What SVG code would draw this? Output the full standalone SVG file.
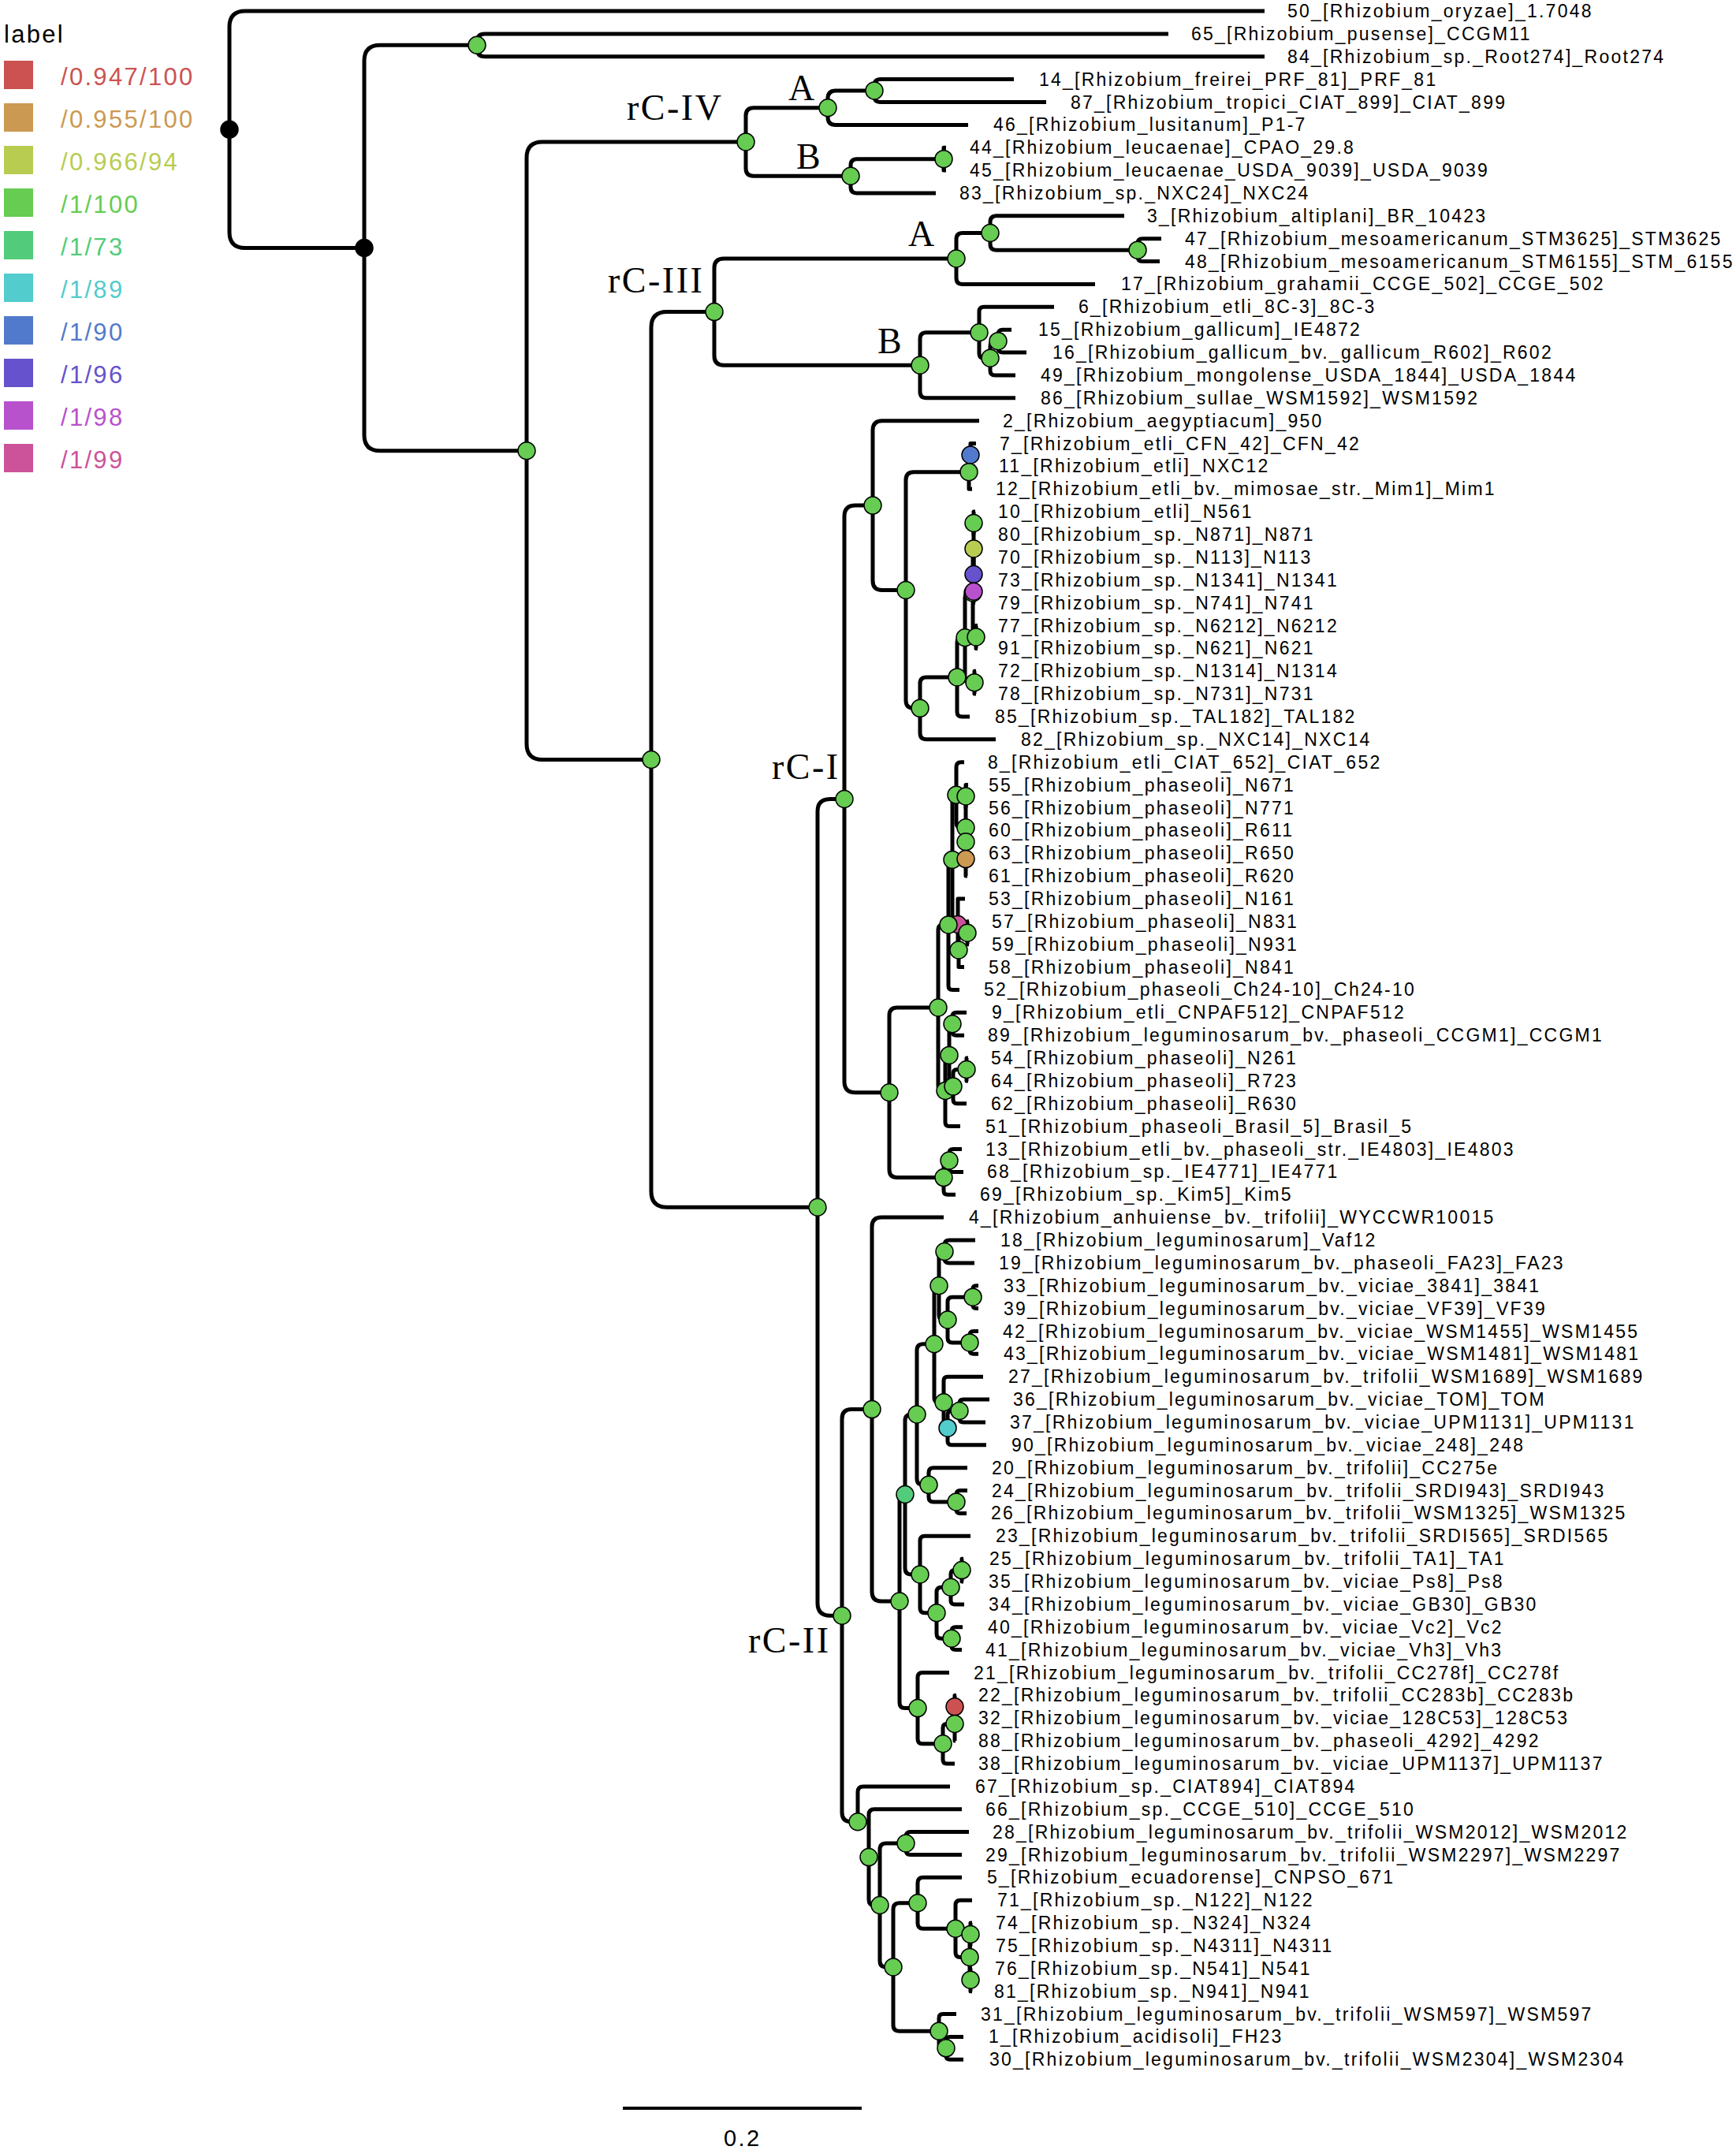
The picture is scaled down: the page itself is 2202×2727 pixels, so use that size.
<svg xmlns="http://www.w3.org/2000/svg" width="2202" height="2727" viewBox="0 0 2202 2727">
<style>
.br{fill:none;stroke:#000;stroke-width:5;stroke-linejoin:round;stroke-linecap:butt}
.lb{font-family:"Liberation Sans",Arial,sans-serif;font-size:23px;letter-spacing:2.25px;fill:#000}
.lg{font-family:"Liberation Sans",Arial,sans-serif;font-size:31px;letter-spacing:2.3px}
.cl{font-family:"Liberation Serif","Times New Roman",serif;font-size:46px;letter-spacing:2.5px;fill:#000}
.nd{stroke:#000;stroke-width:1.5}
.g{fill:#66CC52}
</style>
<rect width="2202" height="2727" fill="#fff"/>
<g id="legend">
<text class="lg" x="5" y="54" fill="#000">label</text>
<rect x="5" y="77" width="37" height="36" fill="#CC5252"/><text class="lg" x="77" y="107.5" fill="#CC5252">/0.947/100</text>
<rect x="5" y="131" width="37" height="36" fill="#CC9952"/><text class="lg" x="77" y="161.5" fill="#CC9952">/0.955/100</text>
<rect x="5" y="185" width="37" height="36" fill="#B8CC52"/><text class="lg" x="77" y="215.5" fill="#B8CC52">/0.966/94</text>
<rect x="5" y="239" width="37" height="36" fill="#66CC52"/><text class="lg" x="77" y="269.5" fill="#66CC52">/1/100</text>
<rect x="5" y="293" width="37" height="36" fill="#52CC7A"/><text class="lg" x="77" y="323.5" fill="#52CC7A">/1/73</text>
<rect x="5" y="347" width="37" height="36" fill="#52CCCC"/><text class="lg" x="77" y="377.5" fill="#52CCCC">/1/89</text>
<rect x="5" y="401" width="37" height="36" fill="#527ACC"/><text class="lg" x="77" y="431.5" fill="#527ACC">/1/90</text>
<rect x="5" y="455" width="37" height="36" fill="#6652CC"/><text class="lg" x="77" y="485.5" fill="#6652CC">/1/96</text>
<rect x="5" y="509" width="37" height="36" fill="#B852CC"/><text class="lg" x="77" y="539.5" fill="#B852CC">/1/98</text>
<rect x="5" y="563" width="37" height="36" fill="#CC5299"/><text class="lg" x="77" y="593.5" fill="#CC5299">/1/99</text>
</g>
<g id="connectors" class="br">
<path d="M1604,14 H311 Q291,14 291,34 V294.5 Q291,314.5 311,314.5 H462"/>
<path d="M605,57.3 H482 Q462,57.3 462,77.3 V551.7 Q462,571.7 482,571.7 H668"/>
<path d="M1482,42.9 H615 Q605,42.9 605,52.9 V61.7 Q605,71.7 615,71.7 H1604"/>
<path d="M946,180 H688 Q668,180 668,200 V943.5 Q668,963.5 688,963.5 H826"/>
<path d="M1050,136.7 H956 Q946,136.7 946,146.7 V213.3 Q946,223.3 956,223.3 H1079"/>
<path d="M1109,115.05 H1060 Q1050,115.05 1050,125.05 V148.4 Q1050,158.4 1060,158.4 H1228"/>
<path d="M1286,100.6 H1117 Q1109,100.6 1109,108.6 V121.5 Q1109,129.5 1117,129.5 H1327"/>
<path d="M1197,201.65 H1087 Q1079,201.65 1079,209.65 V237 Q1079,245 1087,245 H1187"/>
<path d="M1200,187.2 H1197 V216.1 H1200"/>
<path d="M906,395.6 H846 Q826,395.6 826,415.6 V1511.3 Q826,1531.3 846,1531.3 H1037"/>
<path d="M1213,327.95 H918 Q906,327.95 906,339.95 V451.3 Q906,463.3 918,463.3 H1167"/>
<path d="M1256,295.5 H1221 Q1213,295.5 1213,303.5 V352.4 Q1213,360.4 1221,360.4 H1389"/>
<path d="M1426,273.8 H1264 Q1256,273.8 1256,281.8 V309.15 Q1256,317.15 1264,317.15 H1443"/>
<path d="M1473,302.7 H1449 Q1443,302.7 1443,308.7 V325.6 Q1443,331.6 1449,331.6 H1471"/>
<path d="M1242,421.8 H1175 Q1167,421.8 1167,429.8 V496.8 Q1167,504.8 1175,504.8 H1288"/>
<path d="M1337,389.3 H1248 Q1242,389.3 1242,395.3 V448.3 Q1242,454.3 1248,454.3 H1256"/>
<path d="M1266,432.65 H1262 Q1256,432.65 1256,438.65 V469.9 Q1256,475.9 1262,475.9 H1288"/>
<path d="M1283,418.2 H1272 Q1266,418.2 1266,424.2 V441.1 Q1266,447.1 1272,447.1 H1302"/>
<path d="M1071,1013.45 H1053 Q1037,1013.45 1037,1029.45 V2033.2 Q1037,2049.2 1053,2049.2 H1068"/>
<path d="M1107,641.1 H1085 Q1071,641.1 1071,655.1 V1371.8 Q1071,1385.8 1085,1385.8 H1128"/>
<path d="M1242,533.7 H1119 Q1107,533.7 1107,545.7 V736.5 Q1107,748.5 1119,748.5 H1149"/>
<path d="M1229,598.65 H1159 Q1149,598.65 1149,608.65 V888.35 Q1149,898.35 1159,898.35 H1167"/>
<path d="M1214,858.9 H1175 Q1167,858.9 1167,866.9 V929.8 Q1167,937.8 1175,937.8 H1263"/>
<path d="M1224,808.8 H1220 Q1214,808.8 1214,814.8 V903 Q1214,909 1220,909 H1230"/>
<path d="M1234,752 H1230 Q1224,752 1224,758 V859.65 Q1224,865.65 1230,865.65 H1236"/>
<path d="M1235,696.05 H1234 V807.95 H1238"/>
<path d="M1235,663.55 V728.55"/>
<path d="M1237,649.1 H1235 V678 H1237"/>
<path d="M1237,706.9 H1235 V750.2"/>
<path d="M1237,735.8 H1235 V764.6 H1237"/>
<path d="M1240,793.5 H1238 V822.4 H1240"/>
<path d="M1238,851.2 H1236 V880.1 H1238"/>
<path d="M1231,577 H1229 V620.3 H1233"/>
<path d="M1238,562.5 H1231 V591.4 H1237"/>
<path d="M1190,1278 H1138 Q1128,1278 1128,1288 V1483.6 Q1128,1493.6 1138,1493.6 H1197"/>
<path d="M1203,1172.9 H1196 Q1190,1172.9 1190,1178.9 V1377.5 Q1190,1383.5 1196,1383.5 H1199"/>
<path d="M1208,1090.4 Q1203,1090.4 1203,1095.4 V1250.4 Q1203,1255.4 1208,1255.4 H1217"/>
<path d="M1213,1008.2 Q1208,1008.2 1208,1013.2 V1167.5 Q1208,1172.5 1213,1172.5 H1215"/>
<path d="M1223,966.7 H1219 Q1213,966.7 1213,972.7 V1043.8 Q1213,1049.8 1219,1049.8 H1225"/>
<path d="M1225,1010 V1089.6"/>
<path d="M1228,995.6 H1225 V1024.5 H1227"/>
<path d="M1225,1067.75 V1111.1 H1227"/>
<path d="M1227,1053.3 H1225 V1082.2 H1227"/>
<path d="M1224,1139.9 H1215 V1205.05 H1216"/>
<path d="M1227,1183.25 H1216 V1226.5 H1223"/>
<path d="M1229,1168.8 H1227 V1197.7 H1229"/>
<path d="M1204,1338.4 Q1199,1338.4 1199,1343.4 V1423.6 Q1199,1428.6 1204,1428.6 H1218"/>
<path d="M1208,1298.75 Q1204,1298.75 1204,1302.75 V1374.1 Q1204,1378.1 1208,1378.1 H1209"/>
<path d="M1226,1284.3 H1213 Q1208,1284.3 1208,1289.3 V1308.2 Q1208,1313.2 1213,1313.2 H1223"/>
<path d="M1226,1356.45 H1214 Q1209,1356.45 1209,1361.45 V1394.8 Q1209,1399.8 1214,1399.8 H1226"/>
<path d="M1228,1342 H1226 V1370.9 H1228"/>
<path d="M1204,1471.95 H1202 Q1197,1471.95 1197,1476.95 V1510.2 Q1197,1515.2 1202,1515.2 H1212"/>
<path d="M1220,1457.5 H1209 Q1204,1457.5 1204,1462.5 V1481.4 Q1204,1486.4 1209,1486.4 H1222"/>
<path d="M1106,1787.6 H1080 Q1068,1787.6 1068,1799.6 V2298.75 Q1068,2310.75 1080,2310.75 H1088"/>
<path d="M1197,1544.1 H1118 Q1106,1544.1 1106,1556.1 V2019 Q1106,2031 1118,2031 H1141"/>
<path d="M1148,1895.5 Q1141,1895.5 1141,1902.5 V2159.6 Q1141,2166.6 1148,2166.6 H1164"/>
<path d="M1163,1794 H1156 Q1148,1794 1148,1802 V1989 Q1148,1997 1156,1997 H1167"/>
<path d="M1185,1704.7 H1171 Q1163,1704.7 1163,1712.7 V1875.35 Q1163,1883.35 1171,1883.35 H1178"/>
<path d="M1191,1630.7 Q1185,1630.7 1185,1636.7 V1772.7 Q1185,1778.7 1191,1778.7 H1197"/>
<path d="M1198,1587.45 H1197 Q1191,1587.45 1191,1593.45 V1668.05 Q1191,1674.05 1197,1674.05 H1202"/>
<path d="M1237,1573 H1204 Q1198,1573 1198,1579 V1595.9 Q1198,1601.9 1204,1601.9 H1236"/>
<path d="M1234,1645.15 H1208 Q1202,1645.15 1202,1651.15 V1696.9 Q1202,1702.9 1208,1702.9 H1230"/>
<path d="M1241,1630.7 H1238 Q1234,1630.7 1234,1634.7 V1655.6 Q1234,1659.6 1238,1659.6 H1241"/>
<path d="M1241,1688.5 H1235 Q1230,1688.5 1230,1693.5 V1712.3 Q1230,1717.3 1235,1717.3 H1241"/>
<path d="M1247,1746.2 H1202 Q1197,1746.2 1197,1751.2 V1806.15 Q1197,1811.15 1202,1811.15"/>
<path d="M1217,1789.5 H1207 Q1202,1789.5 1202,1794.5 V1827.8 Q1202,1832.8 1207,1832.8 H1251"/>
<path d="M1255,1775.1 H1222 Q1217,1775.1 1217,1780.1 V1798.9 Q1217,1803.9 1222,1803.9 H1250"/>
<path d="M1227,1861.7 H1184 Q1178,1861.7 1178,1867.7 V1899 Q1178,1905 1184,1905 H1213"/>
<path d="M1227,1890.6 H1218 Q1213,1890.6 1213,1895.6 V1914.4 Q1213,1919.4 1218,1919.4 H1226"/>
<path d="M1231,1948.3 H1173 Q1167,1948.3 1167,1954.3 V2039.7 Q1167,2045.7 1173,2045.7 H1188"/>
<path d="M1206,2013.25 H1194 Q1188,2013.25 1188,2019.25 V2072.2 Q1188,2078.2 1194,2078.2 H1207"/>
<path d="M1220,1991.6 H1211 Q1206,1991.6 1206,1996.6 V2029.9 Q1206,2034.9 1211,2034.9 H1223"/>
<path d="M1222,1977.2 H1220 V2006 H1222"/>
<path d="M1221,2063.8 H1212 Q1207,2063.8 1207,2068.8 V2087.6 Q1207,2092.6 1212,2092.6 H1220"/>
<path d="M1204,2121.5 H1170 Q1164,2121.5 1164,2127.5 V2205.7 Q1164,2211.7 1170,2211.7 H1196"/>
<path d="M1211,2186.5 H1201 Q1196,2186.5 1196,2191.5 V2232 Q1196,2237 1201,2237 H1211"/>
<path d="M1211,2164.85 V2208.1 H1212"/>
<path d="M1213,2150.4 H1211 V2179.3 H1213"/>
<path d="M1205,2265.9 H1095 Q1088,2265.9 1088,2272.9 V2303.75 Q1088,2310.75 1095,2310.75 H1102"/>
<path d="M1220,2294.7 H1109 Q1102,2294.7 1102,2301.7 V2409.5 Q1102,2416.5 1109,2416.5 H1116"/>
<path d="M1149,2338.05 H1124 Q1116,2338.05 1116,2346.05 V2487 Q1116,2495 1124,2495 H1133"/>
<path d="M1229,2323.6 H1155 Q1149,2323.6 1149,2329.6 V2346.5 Q1149,2352.5 1155,2352.5 H1220"/>
<path d="M1164,2413.8 H1141 Q1133,2413.8 1133,2421.8 V2568.2 Q1133,2576.2 1141,2576.2 H1191"/>
<path d="M1220,2381.3 H1171 Q1164,2381.3 1164,2388.3 V2439.3 Q1164,2446.3 1171,2446.3 H1212"/>
<path d="M1233,2410.2 H1218 Q1212,2410.2 1212,2416.2 V2476.4 Q1212,2482.4 1218,2482.4 H1230"/>
<path d="M1231,2453.55 H1230 V2511.25 H1231"/>
<path d="M1233,2439.1 H1231 V2468 H1233"/>
<path d="M1233,2496.8 H1231 V2525.7 H1233"/>
<path d="M1213,2554.6 H1196 Q1191,2554.6 1191,2559.6 V2592.85 Q1191,2597.85 1196,2597.85 H1200"/>
<path d="M1222,2583.4 H1205 Q1200,2583.4 1200,2588.4 V2607.3 Q1200,2612.3 1205,2612.3 H1222"/>
</g>
<g id="internal-nodes" class="nd">
<circle id="n-pink" cx="1215" cy="1172.5" r="11" fill="#CC5299"/>
<circle id="n-red" cx="1211" cy="2164.85" r="11" fill="#CC5252"/>
<circle id="n-blue" cx="1231" cy="577" r="11" fill="#527ACC"/>
<circle id="n-root" cx="291" cy="164.25" r="11" fill="#000"/>
<circle id="n-N1" cx="462" cy="314.5" r="11" fill="#000"/>
<g class="g">
<circle cx="605" cy="57.3" r="11"/><circle cx="668" cy="571.7" r="11"/><circle cx="946" cy="180" r="11"/><circle cx="1050" cy="136.7" r="11"/><circle cx="1109" cy="115.05" r="11"/><circle cx="1079" cy="223.3" r="11"/><circle cx="1197" cy="201.65" r="11"/><circle cx="826" cy="963.5" r="11"/><circle cx="906" cy="395.6" r="11"/><circle cx="1213" cy="327.95" r="11"/><circle cx="1256" cy="295.5" r="11"/><circle cx="1443" cy="317.15" r="11"/><circle cx="1167" cy="463.3" r="11"/><circle cx="1242" cy="421.8" r="11"/><circle cx="1256" cy="454.3" r="11"/><circle cx="1266" cy="432.65" r="11"/>
<circle cx="1037" cy="1531.3" r="11"/><circle cx="1071" cy="1013.45" r="11"/><circle cx="1107" cy="641.1" r="11"/><circle cx="1149" cy="748.5" r="11"/><circle cx="1167" cy="898.35" r="11"/><circle cx="1214" cy="858.9" r="11"/><circle cx="1224" cy="808.8" r="11"/><circle cx="1234" cy="752" r="11"/><circle cx="1235" cy="663.55" r="11"/><circle cx="1238" cy="807.95" r="11"/><circle cx="1236" cy="865.65" r="11"/><circle cx="1229" cy="598.65" r="11"/>
<circle cx="1128" cy="1385.8" r="11"/><circle cx="1190" cy="1278" r="11"/><circle cx="1203" cy="1172.9" r="11"/><circle cx="1208" cy="1090.4" r="11"/><circle cx="1213" cy="1008.2" r="11"/><circle cx="1225" cy="1049.8" r="11"/><circle cx="1225" cy="1010" r="11"/><circle cx="1225" cy="1067.75" r="11"/><circle cx="1216" cy="1205.05" r="11"/><circle cx="1227" cy="1183.25" r="11"/><circle cx="1199" cy="1383.5" r="11"/><circle cx="1204" cy="1338.4" r="11"/><circle cx="1208" cy="1298.75" r="11"/><circle cx="1209" cy="1378.1" r="11"/><circle cx="1226" cy="1356.45" r="11"/><circle cx="1197" cy="1493.6" r="11"/><circle cx="1204" cy="1471.95" r="11"/>
<circle cx="1068" cy="2049.2" r="11"/><circle cx="1106" cy="1787.6" r="11"/><circle cx="1141" cy="2031" r="11"/><circle cx="1163" cy="1794" r="11"/><circle cx="1185" cy="1704.7" r="11"/><circle cx="1191" cy="1630.7" r="11"/><circle cx="1198" cy="1587.45" r="11"/><circle cx="1202" cy="1674.05" r="11"/><circle cx="1234" cy="1645.15" r="11"/><circle cx="1230" cy="1702.9" r="11"/><circle cx="1197" cy="1778.7" r="11"/><circle cx="1217" cy="1789.5" r="11"/><circle cx="1178" cy="1883.35" r="11"/><circle cx="1213" cy="1905" r="11"/><circle cx="1167" cy="1997" r="11"/><circle cx="1188" cy="2045.7" r="11"/><circle cx="1206" cy="2013.25" r="11"/><circle cx="1220" cy="1991.6" r="11"/><circle cx="1207" cy="2078.2" r="11"/><circle cx="1164" cy="2166.6" r="11"/><circle cx="1196" cy="2211.7" r="11"/><circle cx="1211" cy="2186.5" r="11"/>
<circle cx="1088" cy="2310.75" r="11"/><circle cx="1102" cy="2355.6" r="11"/><circle cx="1116" cy="2416.5" r="11"/><circle cx="1149" cy="2338.05" r="11"/><circle cx="1133" cy="2495" r="11"/><circle cx="1164" cy="2413.8" r="11"/><circle cx="1212" cy="2446.3" r="11"/><circle cx="1230" cy="2482.4" r="11"/><circle cx="1231" cy="2453.55" r="11"/><circle cx="1231" cy="2511.25" r="11"/><circle cx="1191" cy="2576.2" r="11"/><circle cx="1200" cy="2597.85" r="11"/>
</g>
<circle id="n-yellow" cx="1235" cy="696.05" r="11" fill="#B8CC52"/>
<circle id="n-indigo" cx="1235" cy="728.55" r="11" fill="#6652CC"/>
<circle id="n-magenta" cx="1235" cy="750.2" r="11" fill="#B852CC"/>
<circle id="n-orange" cx="1225" cy="1089.6" r="11" fill="#CC9952"/>
<circle id="n-cyan" cx="1202" cy="1811.15" r="11" fill="#52CCCC"/>
<circle id="n-teal" cx="1148" cy="1895.5" r="11" fill="#52CC7A"/>
</g>
<g id="clade-labels" class="cl">
<text x="795" y="152">rC-IV</text>
<text x="1000" y="127">A</text>
<text x="1010" y="214">B</text>
<text x="771" y="371">rC-III</text>
<text x="1152" y="312">A</text>
<text x="1113" y="448">B</text>
<text x="979" y="988">rC-I</text>
<text x="949" y="2096">rC-II</text>
</g>
<g id="leaves" class="lb">
<g id="leaf-50"><text x="1633" y="22">50_[Rhizobium_oryzae]_1.7048</text></g>
<g id="leaf-65"><text x="1511" y="50.9">65_[Rhizobium_pusense]_CCGM11</text></g>
<g id="leaf-84"><text x="1633" y="79.7">84_[Rhizobium_sp._Root274]_Root274</text></g>
<g id="leaf-14"><text x="1318" y="108.6">14_[Rhizobium_freirei_PRF_81]_PRF_81</text></g>
<g id="leaf-87"><text x="1358" y="137.5">87_[Rhizobium_tropici_CIAT_899]_CIAT_899</text></g>
<g id="leaf-46"><text x="1260" y="166.4">46_[Rhizobium_lusitanum]_P1-7</text></g>
<g id="leaf-44"><text x="1230" y="195.2">44_[Rhizobium_leucaenae]_CPAO_29.8</text></g>
<g id="leaf-45"><text x="1230" y="224.1">45_[Rhizobium_leucaenae_USDA_9039]_USDA_9039</text></g>
<g id="leaf-83"><text x="1217" y="253">83_[Rhizobium_sp._NXC24]_NXC24</text></g>
<g id="leaf-3"><text x="1455" y="281.8">3_[Rhizobium_altiplani]_BR_10423</text></g>
<g id="leaf-47"><text x="1503" y="310.7">47_[Rhizobium_mesoamericanum_STM3625]_STM3625</text></g>
<g id="leaf-48"><text x="1503" y="339.6">48_[Rhizobium_mesoamericanum_STM6155]_STM_6155</text></g>
<g id="leaf-17"><text x="1422" y="368.4">17_[Rhizobium_grahamii_CCGE_502]_CCGE_502</text></g>
<g id="leaf-6"><text x="1368" y="397.3">6_[Rhizobium_etli_8C-3]_8C-3</text></g>
<g id="leaf-15"><text x="1317" y="426.2">15_[Rhizobium_gallicum]_IE4872</text></g>
<g id="leaf-16"><text x="1335" y="455.1">16_[Rhizobium_gallicum_bv._gallicum_R602]_R602</text></g>
<g id="leaf-49"><text x="1320" y="483.9">49_[Rhizobium_mongolense_USDA_1844]_USDA_1844</text></g>
<g id="leaf-86"><text x="1320" y="512.8">86_[Rhizobium_sullae_WSM1592]_WSM1592</text></g>
<g id="leaf-2"><text x="1272" y="541.7">2_[Rhizobium_aegyptiacum]_950</text></g>
<g id="leaf-7"><text x="1268" y="570.5">7_[Rhizobium_etli_CFN_42]_CFN_42</text></g>
<g id="leaf-11"><text x="1267" y="599.4">11_[Rhizobium_etli]_NXC12</text></g>
<g id="leaf-12"><text x="1263" y="628.3">12_[Rhizobium_etli_bv._mimosae_str._Mim1]_Mim1</text></g>
<g id="leaf-10"><text x="1266" y="657.1">10_[Rhizobium_etli]_N561</text></g>
<g id="leaf-80"><text x="1266" y="686">80_[Rhizobium_sp._N871]_N871</text></g>
<g id="leaf-70"><text x="1266" y="714.9">70_[Rhizobium_sp._N113]_N113</text></g>
<g id="leaf-73"><text x="1266" y="743.8">73_[Rhizobium_sp._N1341]_N1341</text></g>
<g id="leaf-79"><text x="1266" y="772.6">79_[Rhizobium_sp._N741]_N741</text></g>
<g id="leaf-77"><text x="1266" y="801.5">77_[Rhizobium_sp._N6212]_N6212</text></g>
<g id="leaf-91"><text x="1266" y="830.4">91_[Rhizobium_sp._N621]_N621</text></g>
<g id="leaf-72"><text x="1266" y="859.2">72_[Rhizobium_sp._N1314]_N1314</text></g>
<g id="leaf-78"><text x="1266" y="888.1">78_[Rhizobium_sp._N731]_N731</text></g>
<g id="leaf-85"><text x="1262" y="917">85_[Rhizobium_sp._TAL182]_TAL182</text></g>
<g id="leaf-82"><text x="1295" y="945.8">82_[Rhizobium_sp._NXC14]_NXC14</text></g>
<g id="leaf-8"><text x="1253" y="974.7">8_[Rhizobium_etli_CIAT_652]_CIAT_652</text></g>
<g id="leaf-55"><text x="1254" y="1003.6">55_[Rhizobium_phaseoli]_N671</text></g>
<g id="leaf-56"><text x="1254" y="1032.5">56_[Rhizobium_phaseoli]_N771</text></g>
<g id="leaf-60"><text x="1254" y="1061.3">60_[Rhizobium_phaseoli]_R611</text></g>
<g id="leaf-63"><text x="1254" y="1090.2">63_[Rhizobium_phaseoli]_R650</text></g>
<g id="leaf-61"><text x="1254" y="1119.1">61_[Rhizobium_phaseoli]_R620</text></g>
<g id="leaf-53"><text x="1254" y="1147.9">53_[Rhizobium_phaseoli]_N161</text></g>
<g id="leaf-57"><text x="1258" y="1176.8">57_[Rhizobium_phaseoli]_N831</text></g>
<g id="leaf-59"><text x="1258" y="1205.7">59_[Rhizobium_phaseoli]_N931</text></g>
<g id="leaf-58"><text x="1254" y="1234.5">58_[Rhizobium_phaseoli]_N841</text></g>
<g id="leaf-52"><text x="1248" y="1263.4">52_[Rhizobium_phaseoli_Ch24-10]_Ch24-10</text></g>
<g id="leaf-9"><text x="1258" y="1292.3">9_[Rhizobium_etli_CNPAF512]_CNPAF512</text></g>
<g id="leaf-89"><text x="1253" y="1321.2">89_[Rhizobium_leguminosarum_bv._phaseoli_CCGM1]_CCGM1</text></g>
<g id="leaf-54"><text x="1257" y="1350">54_[Rhizobium_phaseoli]_N261</text></g>
<g id="leaf-64"><text x="1257" y="1378.9">64_[Rhizobium_phaseoli]_R723</text></g>
<g id="leaf-62"><text x="1257" y="1407.8">62_[Rhizobium_phaseoli]_R630</text></g>
<g id="leaf-51"><text x="1250" y="1436.6">51_[Rhizobium_phaseoli_Brasil_5]_Brasil_5</text></g>
<g id="leaf-13"><text x="1250" y="1465.5">13_[Rhizobium_etli_bv._phaseoli_str._IE4803]_IE4803</text></g>
<g id="leaf-68"><text x="1252" y="1494.4">68_[Rhizobium_sp._IE4771]_IE4771</text></g>
<g id="leaf-69"><text x="1243" y="1523.2">69_[Rhizobium_sp._Kim5]_Kim5</text></g>
<g id="leaf-4"><text x="1229" y="1552.1">4_[Rhizobium_anhuiense_bv._trifolii]_WYCCWR10015</text></g>
<g id="leaf-18"><text x="1269" y="1581">18_[Rhizobium_leguminosarum]_Vaf12</text></g>
<g id="leaf-19"><text x="1267" y="1609.9">19_[Rhizobium_leguminosarum_bv._phaseoli_FA23]_FA23</text></g>
<g id="leaf-33"><text x="1273" y="1638.7">33_[Rhizobium_leguminosarum_bv._viciae_3841]_3841</text></g>
<g id="leaf-39"><text x="1273" y="1667.6">39_[Rhizobium_leguminosarum_bv._viciae_VF39]_VF39</text></g>
<g id="leaf-42"><text x="1272" y="1696.5">42_[Rhizobium_leguminosarum_bv._viciae_WSM1455]_WSM1455</text></g>
<g id="leaf-43"><text x="1273" y="1725.3">43_[Rhizobium_leguminosarum_bv._viciae_WSM1481]_WSM1481</text></g>
<g id="leaf-27"><text x="1279" y="1754.2">27_[Rhizobium_leguminosarum_bv._trifolii_WSM1689]_WSM1689</text></g>
<g id="leaf-36"><text x="1285" y="1783.1">36_[Rhizobium_leguminosarum_bv._viciae_TOM]_TOM</text></g>
<g id="leaf-37"><text x="1281" y="1811.9">37_[Rhizobium_leguminosarum_bv._viciae_UPM1131]_UPM1131</text></g>
<g id="leaf-90"><text x="1283" y="1840.8">90_[Rhizobium_leguminosarum_bv._viciae_248]_248</text></g>
<g id="leaf-20"><text x="1258" y="1869.7">20_[Rhizobium_leguminosarum_bv._trifolii]_CC275e</text></g>
<g id="leaf-24"><text x="1258" y="1898.6">24_[Rhizobium_leguminosarum_bv._trifolii_SRDI943]_SRDI943</text></g>
<g id="leaf-26"><text x="1257" y="1927.4">26_[Rhizobium_leguminosarum_bv._trifolii_WSM1325]_WSM1325</text></g>
<g id="leaf-23"><text x="1263" y="1956.3">23_[Rhizobium_leguminosarum_bv._trifolii_SRDI565]_SRDI565</text></g>
<g id="leaf-25"><text x="1255" y="1985.2">25_[Rhizobium_leguminosarum_bv._trifolii_TA1]_TA1</text></g>
<g id="leaf-35"><text x="1254" y="2014">35_[Rhizobium_leguminosarum_bv._viciae_Ps8]_Ps8</text></g>
<g id="leaf-34"><text x="1254" y="2042.9">34_[Rhizobium_leguminosarum_bv._viciae_GB30]_GB30</text></g>
<g id="leaf-40"><text x="1253" y="2071.8">40_[Rhizobium_leguminosarum_bv._viciae_Vc2]_Vc2</text></g>
<g id="leaf-41"><text x="1250" y="2100.6">41_[Rhizobium_leguminosarum_bv._viciae_Vh3]_Vh3</text></g>
<g id="leaf-21"><text x="1235" y="2129.5">21_[Rhizobium_leguminosarum_bv._trifolii_CC278f]_CC278f</text></g>
<g id="leaf-22"><text x="1241" y="2158.4">22_[Rhizobium_leguminosarum_bv._trifolii_CC283b]_CC283b</text></g>
<g id="leaf-32"><text x="1241" y="2187.3">32_[Rhizobium_leguminosarum_bv._viciae_128C53]_128C53</text></g>
<g id="leaf-88"><text x="1241" y="2216.1">88_[Rhizobium_leguminosarum_bv._phaseoli_4292]_4292</text></g>
<g id="leaf-38"><text x="1241" y="2245">38_[Rhizobium_leguminosarum_bv._viciae_UPM1137]_UPM1137</text></g>
<g id="leaf-67"><text x="1237" y="2273.9">67_[Rhizobium_sp._CIAT894]_CIAT894</text></g>
<g id="leaf-66"><text x="1250" y="2302.7">66_[Rhizobium_sp._CCGE_510]_CCGE_510</text></g>
<g id="leaf-28"><text x="1259" y="2331.6">28_[Rhizobium_leguminosarum_bv._trifolii_WSM2012]_WSM2012</text></g>
<g id="leaf-29"><text x="1250" y="2360.5">29_[Rhizobium_leguminosarum_bv._trifolii_WSM2297]_WSM2297</text></g>
<g id="leaf-5"><text x="1252" y="2389.3">5_[Rhizobium_ecuadorense]_CNPSO_671</text></g>
<g id="leaf-71"><text x="1265" y="2418.2">71_[Rhizobium_sp._N122]_N122</text></g>
<g id="leaf-74"><text x="1263" y="2447.1">74_[Rhizobium_sp._N324]_N324</text></g>
<g id="leaf-75"><text x="1263" y="2476">75_[Rhizobium_sp._N4311]_N4311</text></g>
<g id="leaf-76"><text x="1262" y="2504.8">76_[Rhizobium_sp._N541]_N541</text></g>
<g id="leaf-81"><text x="1261" y="2533.7">81_[Rhizobium_sp._N941]_N941</text></g>
<g id="leaf-31"><text x="1244" y="2562.6">31_[Rhizobium_leguminosarum_bv._trifolii_WSM597]_WSM597</text></g>
<g id="leaf-1"><text x="1254" y="2591.4">1_[Rhizobium_acidisoli]_FH23</text></g>
<g id="leaf-30"><text x="1255" y="2620.3">30_[Rhizobium_leguminosarum_bv._trifolii_WSM2304]_WSM2304</text></g>
</g>
<g id="scale-bar">
<line x1="790" y1="2674" x2="1093" y2="2674" stroke="#000" stroke-width="4"/>
<text x="918" y="2722" font-family="Liberation Sans, Arial, sans-serif" font-size="29" letter-spacing="2.4">0.2</text>
</g>
</svg>
